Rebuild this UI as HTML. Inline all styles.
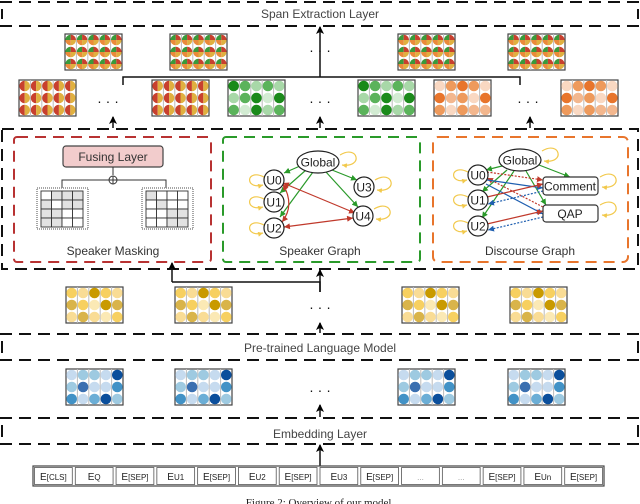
<!DOCTYPE html>
<html><head><meta charset="utf-8"><style>
html,body{margin:0;padding:0;background:#fff;width:640px;height:504px;overflow:hidden}
svg text{font-family:"Liberation Sans","DejaVu Sans",sans-serif}
</style></head><body>
<svg id="s" width="640" height="504" viewBox="0 0 640 504" xmlns="http://www.w3.org/2000/svg">
<defs>
<marker id="ak" markerWidth="8" markerHeight="8" refX="7" refY="4" orient="auto" markerUnits="userSpaceOnUse"><path d="M0,0 L8,4 L0,8 L2,4 z" fill="#000"/></marker>
<marker id="ag" markerWidth="6" markerHeight="6" refX="6" refY="3" orient="auto" markerUnits="userSpaceOnUse"><path d="M0,0 L6,3 L0,6 z" fill="#2a9a2a"/></marker>
<marker id="ar" markerWidth="6" markerHeight="6" refX="6" refY="3" orient="auto" markerUnits="userSpaceOnUse"><path d="M0,0 L6,3 L0,6 z" fill="#c0392b"/></marker>
<marker id="ars" markerWidth="6" markerHeight="6" refX="0" refY="3" orient="auto" markerUnits="userSpaceOnUse"><path d="M6,0 L0,3 L6,6 z" fill="#c0392b"/></marker>
<marker id="ab" markerWidth="6" markerHeight="6" refX="6" refY="3" orient="auto" markerUnits="userSpaceOnUse"><path d="M0,0 L6,3 L0,6 z" fill="#1f5fb0"/></marker>
<marker id="ay" markerWidth="5" markerHeight="5" refX="5" refY="2.5" orient="auto" markerUnits="userSpaceOnUse"><path d="M0,0 L5,2.5 L0,5 z" fill="#f2c94c"/></marker>
</defs>
<g id="g"></g>
</svg>
<script>
const g=document.getElementById('g');let h='';
function A(s){h+=s;}
const D='stroke="#111" stroke-width="2" stroke-dasharray="12,7" fill="none"';
function band(y1,y2,label,ty){A(`<line x1="0" y1="${y1}" x2="640" y2="${y1}" ${D}/><line x1="0" y1="${y2}" x2="640" y2="${y2}" ${D}/>`);
A(`<line x1="2" y1="${y1+7}" x2="2" y2="${y2-7}" stroke="#111" stroke-width="2"/><line x1="638" y1="${y1+7}" x2="638" y2="${y2-7}" stroke="#111" stroke-width="2"/>`);
A(`<text x="320" y="${ty}" font-size="12" fill="#444" text-anchor="middle">${label}</text>`);}
band(2,26,'Span Extraction Layer',18);
band(334,360,'Pre-trained Language Model',352);
band(418,444,'Embedding Layer',438);
A(`<rect x="2" y="129" width="636" height="140" ${D}/>`);
function grid(x,y,cols){const w=57,hh=36,cw=w/5,ch=hh/3;
A(`<rect x="${x}" y="${y}" width="${w}" height="${hh}" fill="#fff" stroke="#444" stroke-width="1.2"/>`);
for(let i=1;i<5;i++)A(`<line x1="${x+i*cw}" y1="${y}" x2="${x+i*cw}" y2="${y+hh}" stroke="#bbb" stroke-width="1"/>`);
for(let r=0;r<3;r++)for(let c=0;c<5;c++){const cx=x+cw*c+cw/2,cy=y+ch*r+ch/2,rr=5.3,col=cols(r,c);
if(typeof col==='string')A(`<circle cx="${cx}" cy="${cy}" r="${rr}" fill="${col}"/>`);
else if(col.length==2)A(`<path d="M${cx},${cy-rr} A${rr},${rr} 0 0 0 ${cx},${cy+rr}z" fill="${col[0]}"/><path d="M${cx},${cy-rr} A${rr},${rr} 0 0 1 ${cx},${cy+rr}z" fill="${col[1]}"/>`);
else{A(`<path d="M${cx},${cy} L${cx-rr},${cy} A${rr},${rr} 0 0 1 ${cx},${cy-rr}z" fill="${col[0]}"/><path d="M${cx},${cy} L${cx},${cy-rr} A${rr},${rr} 0 0 1 ${cx+rr},${cy}z" fill="${col[1]}"/><path d="M${cx},${cy} L${cx+rr},${cy} A${rr},${rr} 0 0 1 ${cx},${cy+rr}z" fill="${col[3]}"/><path d="M${cx},${cy} L${cx},${cy+rr} A${rr},${rr} 0 0 1 ${cx-rr},${cy}z" fill="${col[2]}"/>`);}
}}
const quad=()=>['#3a9a3a','#c8402e','#ea8a3a','#e0b040'];
const half=()=>['#c8402e','#e0b040'];
const GM={d:'#1a8a1a',m:'#5bb35b',l:'#a8d8a8',v:'#d3ecd3'};
const gp=[['d','m','l','m','l'],['l','m','d','v','d'],['m','v','d','l','m']];
const OM={d:'#e8752c',m:'#ee9a5c',l:'#f3b78e',v:'#f9d8c2'};
const op=[['v','m','d','m','v'],['d','l','m','v','d'],['m','v','m','l','l']];
const yp=[['#f7d060','#f9dc95','#c99a00','#f7d060','#f9dc95'],['#d9b44a','#f7d060','#fbe9b5','#c99a00','#d9b44a'],['#f9dc95','#d9b44a','#f9dc95','#fbe9b5','#f7d060']];
const bp=[['#c6dbef','#9ecae1','#9ecae1','#c6dbef','#0b4f9c'],['#9ecae1','#3a6fb0','#c6dbef','#c6dbef','#4292c6'],['#4292c6','#c6dbef','#6baed6','#0b4f9c','#9ecae1']];
[65,170,398,508].forEach(x=>grid(x,34,quad));
[19,152].forEach(x=>grid(x,80,half));
[228,358].forEach(x=>grid(x,80,(r,c)=>GM[gp[r][c]]));
[434,561].forEach(x=>grid(x,80,(r,c)=>OM[op[r][c]]));
[66,175,402,510].forEach(x=>grid(x,287,(r,c)=>yp[r][c]));
[66,175,398,508].forEach(x=>grid(x,369,(r,c)=>bp[r][c]));
function dots(x,y){A(`<text x="${x}" y="${y}" font-size="14" text-anchor="middle" fill="#111">· · ·</text>`);}
dots(320,55);dots(108,106);dots(320,106);dots(528,106);dots(320,312);dots(320,395);
A(`<polyline points="123,85 123,77 520,77 520,85" fill="none" stroke="#111" stroke-width="1.5"/>`);
A(`<line x1="320" y1="77" x2="320" y2="27" stroke="#111" stroke-width="1.5" marker-end="url(#ak)"/>`);
[113,320,530].forEach(x=>A(`<line x1="${x}" y1="128" x2="${x}" y2="117" stroke="#111" stroke-width="1.5" marker-end="url(#ak)"/>`));
A(`<polyline points="320,292 320,282 172,282" fill="none" stroke="#111" stroke-width="1.5"/>`);
A(`<line x1="172" y1="282" x2="172" y2="263" stroke="#111" stroke-width="1.5" marker-end="url(#ak)"/>`);
A(`<line x1="320" y1="292" x2="320" y2="270" stroke="#111" stroke-width="1.5" marker-end="url(#ak)"/>`);
A(`<line x1="320" y1="333" x2="320" y2="323" stroke="#111" stroke-width="1.5" marker-end="url(#ak)"/>`);
A(`<line x1="320" y1="417" x2="320" y2="405" stroke="#111" stroke-width="1.5" marker-end="url(#ak)"/>`);
A(`<line x1="320" y1="466" x2="320" y2="445" stroke="#111" stroke-width="1.5" marker-end="url(#ak)"/>`);
A(`<rect x="14" y="137" width="197" height="125" rx="3" fill="none" stroke="#b83232" stroke-width="2" stroke-dasharray="11,7"/>`);
A(`<rect x="223" y="137" width="197" height="125" rx="3" fill="none" stroke="#2a9a2a" stroke-width="2" stroke-dasharray="11,7"/>`);
A(`<rect x="433" y="137" width="195" height="125" rx="5" fill="none" stroke="#e8752c" stroke-width="2" stroke-dasharray="11,7"/>`);
A(`<rect x="63" y="146" width="100" height="21" rx="3" fill="#f2cccc" stroke="#444" stroke-width="1.2"/><text x="113" y="161" font-size="12" text-anchor="middle" fill="#333">Fusing Layer</text>`);
A(`<line x1="113" y1="167" x2="113" y2="175" stroke="#333"/><polyline points="62,188 62,180 166,180 166,188" fill="none" stroke="#333"/><circle cx="113" cy="180" r="4" fill="#fff" stroke="#333"/><line x1="109" y1="180" x2="117" y2="180" stroke="#333"/><line x1="113" y1="176" x2="113" y2="184" stroke="#333"/>`);
function mgrid(x,y,p){A(`<rect x="${x}" y="${y}" width="51" height="41" fill="#fff" stroke="#888" stroke-width="1.5" stroke-dasharray="1,1"/>`);
const cw=10.5,ch=9;for(let r=0;r<4;r++)for(let c=0;c<4;c++)A(`<rect x="${x+4+c*cw}" y="${y+3+r*ch}" width="${cw}" height="${ch}" fill="${p[r][c]?'#e2e2e2':'#fff'}" stroke="#333" stroke-width="0.9"/>`);}
mgrid(37,188,[[0,1,1,1],[1,0,1,1],[1,1,0,0],[1,1,0,0]]);
mgrid(142,188,[[1,0,0,0],[0,1,0,0],[0,0,1,1],[0,0,1,1]]);
A(`<text x="113" y="255" font-size="12" text-anchor="middle" fill="#333">Speaker Masking</text>`);
function node(x,y,t){A(`<circle cx="${x}" cy="${y}" r="10" fill="#fff" stroke="#222" stroke-width="1.2"/><text x="${x}" y="${y+4.5}" font-size="12" text-anchor="middle" fill="#222">${t}</text>`);}
function glob(x,y){A(`<ellipse cx="${x}" cy="${y}" rx="21" ry="11" fill="#fff" stroke="#222" stroke-width="1.2"/><text x="${x}" y="${y+4.5}" font-size="12" text-anchor="middle" fill="#222">Global</text>`);}
function loopL(x,y){A(`<path d="M${x-10},${y-3} C${x-28},${y-12} ${x-30},${y+10} ${x-11},${y+5}" fill="none" stroke="#f2c94c" stroke-width="1.2" marker-end="url(#ay)"/>`);}
function loopR(x,y){A(`<path d="M${x+2},${y-7} C${x+20},${y-18} ${x+26},${y+6} ${x+4},${y+3}" fill="none" stroke="#f2c94c" stroke-width="1.2" marker-end="url(#ay)"/>`);}
function ln(x1,y1,x2,y2,m,c,da,ms){A(`<line x1="${x1}" y1="${y1}" x2="${x2}" y2="${y2}" stroke="${c}" stroke-width="1.2" ${da?'stroke-dasharray="2,1.5"':''} marker-end="url(#${m})" ${ms?'marker-start="url(#ars)"':''}/>`);}
const G='#2a9a2a',R='#c0392b',B='#1f5fb0';
ln(300,166,284,173,'ag',G);ln(306,170,280,193,'ag',G);ln(313,172,280,217,'ag',G);ln(332,170,357,180,'ag',G);ln(326,172,358,207,'ag',G);
ln(283,183,355,213,'ar',R,0,1);ln(284,227,353,218,'ar',R,0,1);
A(`<path d="M283,184 C292,200 290,212 282,222" fill="none" stroke="${R}" stroke-width="1.2" marker-end="url(#ar)" marker-start="url(#ars)"/>`);
[[274,180],[274,202],[274,228]].forEach(p=>loopL(p[0],p[1]));
loopR(338,162);loopR(373,187);loopR(372,216);
glob(318,162);node(274,180,'U0');node(274,202,'U1');node(274,228,'U2');node(364,187,'U3');node(363,216,'U4');
A(`<text x="320" y="255" font-size="12" text-anchor="middle" fill="#333">Speaker Graph</text>`);
ln(502,166,486,170,'ag',G);ln(507,170,482,192,'ag',G);ln(514,171,482,218,'ag',G);ln(539,165,570,177,'ag',G);ln(526,171,546,205,'ag',G);
ln(487,172,543,180,'ar',R,1);ln(543,207,487,178,'ar',R,1);
ln(487,180,543,188,'ab',B);ln(486,184,543,214,'ab',B);
ln(487,197,543,184,'ar',R);ln(543,191,488,204,'ab',B,1);
ln(487,224,543,211,'ar',R);ln(543,217,488,230,'ab',B,1);
[[478,175],[478,200],[478,226]].forEach(p=>loopL(p[0],p[1]));
loopR(540,158);loopR(598,184);loopR(598,212);
A(`<rect x="543" y="177" width="55" height="18" rx="3" fill="#fff" stroke="#333" stroke-width="1.2"/><text x="570" y="190.5" font-size="12" text-anchor="middle" fill="#222">Comment</text>`);
A(`<rect x="543" y="205" width="55" height="17" rx="3" fill="#fff" stroke="#333" stroke-width="1.2"/><text x="570" y="218" font-size="12" text-anchor="middle" fill="#222">QAP</text>`);
glob(520,160);node(478,175,'U0');node(478,200,'U1');node(478,226,'U2');
A(`<text x="530" y="255" font-size="12" text-anchor="middle" fill="#333">Discourse Graph</text>`);
const toks=['E<tspan font-size="8">[CLS]</tspan>','E<tspan font-size="8">Q</tspan>','E<tspan font-size="8">[SEP]</tspan>','E<tspan font-size="8">U1</tspan>','E<tspan font-size="8">[SEP]</tspan>','E<tspan font-size="8">U2</tspan>','E<tspan font-size="8">[SEP]</tspan>','E<tspan font-size="8">U3</tspan>','E<tspan font-size="8">[SEP]</tspan>','<tspan font-size="8" fill="#999">...</tspan>','<tspan font-size="8" fill="#999">...</tspan>','E<tspan font-size="8">[SEP]</tspan>','E<tspan font-size="8">Un</tspan>','E<tspan font-size="8">[SEP]</tspan>'];
const tw=(604-33)/14;
A(`<rect x="33" y="466" width="571" height="20" fill="#fff" stroke="#444" stroke-width="1.2"/>`);
toks.forEach((t,i)=>{const x=33+i*tw;A(`<rect x="${x+1.5}" y="467.5" width="${tw-3}" height="17" fill="#fff" stroke="#555" stroke-width="0.8"/><text x="${x+tw/2}" y="480" font-size="10" text-anchor="middle" fill="#222">${t}</text>`);});
A(`<text x="320" y="506" font-size="11" text-anchor="middle" fill="#222" style="font-family:'Liberation Serif',serif">Figure 2: Overview of our model.</text>`);
g.innerHTML=h;
</script>
</body></html>
